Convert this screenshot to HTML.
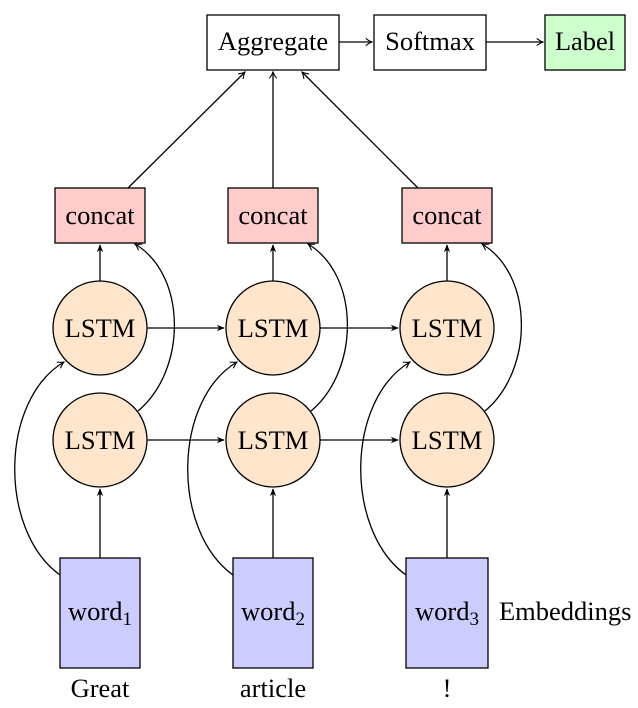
<!DOCTYPE html>
<html><head><style>body{margin:0;background:#fff}svg{display:block}text{font-family:"Liberation Serif",serif;font-size:26.5px;fill:#000}</style></head><body>
<svg width="638" height="708" viewBox="0 0 638 708" xmlns="http://www.w3.org/2000/svg">
<defs>
<marker id="s" viewBox="0 0 10 10" refX="9" refY="5" markerWidth="8" markerHeight="8" orient="auto" markerUnits="userSpaceOnUse"><path d="M0,1 L10,5 L0,9 L3,5z" fill="#000"/></marker>
<marker id="o" viewBox="0 0 10 10" refX="9" refY="5" markerWidth="9" markerHeight="9" orient="auto" markerUnits="userSpaceOnUse"><path d="M2,1 Q6,4 9,5 Q6,6 2,9" fill="none" stroke="#000" stroke-width="1.2"/></marker>
</defs>
<g stroke="#000" stroke-width="1.3" fill="none">
<line x1="339" y1="42" x2="372" y2="42" marker-end="url(#o)"/>
<line x1="486" y1="42" x2="543" y2="42" marker-end="url(#o)"/>
<line x1="128" y1="188" x2="245" y2="72" marker-end="url(#o)"/>
<line x1="273" y1="188" x2="273" y2="72" marker-end="url(#o)"/>
<line x1="418" y1="188" x2="302" y2="72" marker-end="url(#o)"/>
<g marker-end="url(#s)">
<line x1="100" y1="281" x2="100" y2="245"/><line x1="273" y1="281" x2="273" y2="245"/><line x1="447" y1="281" x2="447" y2="245"/>
<line x1="147" y1="328" x2="224" y2="328"/><line x1="320" y1="328" x2="398" y2="328"/>
<line x1="147" y1="440" x2="224" y2="440"/><line x1="320" y1="440" x2="398" y2="440"/>
<line x1="100" y1="558" x2="100" y2="489"/><line x1="273" y1="558" x2="273" y2="489"/><line x1="447" y1="558" x2="447" y2="489"/>
</g>
<g marker-end="url(#o)">
<path d="M60,575 C-2,530 0,400 64,362"/>
<path d="M233,575 C171,530 173,400 237,362"/>
<path d="M406,575 C344,530 346,400 410,362"/>
<path d="M138,411 C187,370 187,275 135,244"/>
<path d="M311,411 C360,370 360,275 308,244"/>
<path d="M485,411 C534,370 534,275 482,244"/>
</g>
</g>
<g stroke="#000" stroke-width="1.3">
<rect x="207" y="15" width="132" height="55" fill="#fff"/>
<rect x="374" y="15" width="112" height="55" fill="#fff"/>
<rect x="545" y="15" width="80" height="55" fill="#ccffcc"/>
<rect x="55" y="188" width="90" height="55" fill="#ffcccc"/>
<rect x="228" y="188" width="90" height="55" fill="#ffcccc"/>
<rect x="402" y="188" width="90" height="55" fill="#ffcccc"/>
<circle cx="100" cy="328" r="47" fill="#ffe5cc"/><circle cx="273" cy="328" r="47" fill="#ffe5cc"/><circle cx="447" cy="328" r="47" fill="#ffe5cc"/>
<circle cx="100" cy="440" r="47" fill="#ffe5cc"/><circle cx="273" cy="440" r="47" fill="#ffe5cc"/><circle cx="447" cy="440" r="47" fill="#ffe5cc"/>
<rect x="60" y="558" width="80" height="110" fill="#ccccff"/>
<rect x="233" y="558" width="80" height="110" fill="#ccccff"/>
<rect x="406" y="558" width="82" height="110" fill="#ccccff"/>
</g>
<g text-anchor="middle">
<text x="273" y="50">Aggregate</text><text x="430" y="50">Softmax</text><text x="585" y="50">Label</text>
<text x="100" y="224">concat</text><text x="273" y="224">concat</text><text x="447" y="224">concat</text>
<text x="100" y="337">LSTM</text><text x="273" y="337">LSTM</text><text x="447" y="337">LSTM</text>
<text x="100" y="449">LSTM</text><text x="273" y="449">LSTM</text><text x="447" y="449">LSTM</text>
<text x="100" y="620">word<tspan font-size="19" dy="5">1</tspan></text>
<text x="273" y="620">word<tspan font-size="19" dy="5">2</tspan></text>
<text x="447" y="620">word<tspan font-size="19" dy="5">3</tspan></text>
<text x="100" y="697">Great</text><text x="273" y="697">article</text><text x="447" y="697">!</text>
</g>
<text x="499" y="620">Embeddings</text>
</svg>
</body></html>
